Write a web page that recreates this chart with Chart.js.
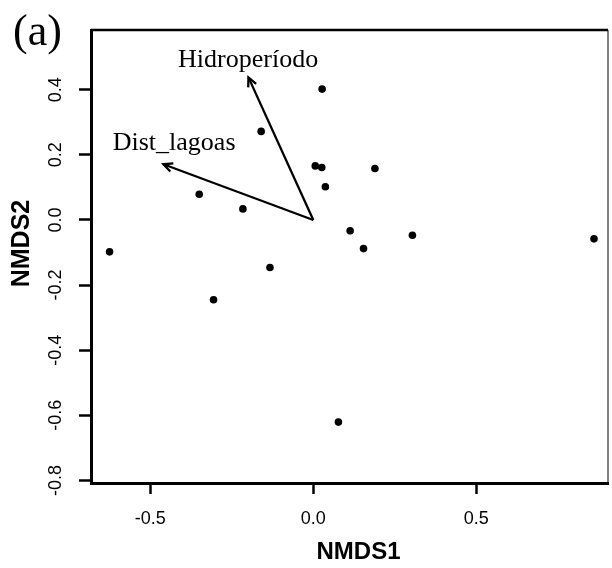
<!DOCTYPE html>
<html>
<head>
<meta charset="utf-8">
<script src="https://cdn.jsdelivr.net/npm/chart.js@4/dist/chart.umd.min.js"></script>
<style>
  html, body { margin: 0; padding: 0; background: #fff; }
  canvas { display: block; }
</style>
</head>
<body>
<canvas id="c" width="612" height="568"></canvas>
<script>
// ---- data ----
const siteX = [0.027, -0.160, 0.006, 0.026, 0.189, 0.037, -0.350, -0.216, 0.113, 0.304, 0.154, 0.861, -0.625, -0.133, -0.306, 0.077];
const siteY = [0.402, 0.272, 0.166, 0.161, 0.158, 0.102, 0.079, 0.034, -0.033, -0.047, -0.088, -0.058, -0.098, -0.146, -0.245, -0.621];

const vectorNames = ['Hidroperíodo', 'Dist_lagoas'];
const vectorX = [-0.199, -0.460];
const vectorY = [0.438, 0.171];
const vectorLabelX = [-0.200, -0.427];
const vectorLabelY = [0.470, 0.215];

const xTicks = [-0.5, 0.0, 0.5];
const xTickLabels = ['-0.5', '0.0', '0.5'];
const yTicks = [-0.8, -0.6, -0.4, -0.2, 0.0, 0.2, 0.4];
const yTickLabels = ['-0.8', '-0.6', '-0.4', '-0.2', '0.0', '0.2', '0.4'];

const xTitle = 'NMDS1';
const yTitle = 'NMDS2';
const panelLabel = '(a)';

// ---- build datasets ----
const sitePoints = siteX.map((x, i) => ({ x: x, y: siteY[i] }));
const vectorDatasets = vectorX.map((vx, i) => ({
  type: 'line',
  label: vectorNames[i],
  data: [{ x: 0, y: 0 }, { x: vx, y: vectorY[i] }],
  borderColor: '#000',
  borderWidth: 2.3,
  pointRadius: 0,
  fill: false,
  tension: 0
}));

const SANS = '"Liberation Sans", Arial, sans-serif';
const SERIF = '"Liberation Serif", "Times New Roman", serif';

const decorPlugin = {
  id: 'decor',
  afterDatasetsDraw(chart) {
    const ctx = chart.ctx;
    const xs = chart.scales.x, ys = chart.scales.y;
    const area = chart.chartArea;
    ctx.save();
    // arrow heads
    ctx.strokeStyle = '#000';
    ctx.fillStyle = '#000';
    ctx.lineWidth = 2.3;
    vectorX.forEach((vx, i) => {
      const x0 = xs.getPixelForValue(0), y0 = ys.getPixelForValue(0);
      const x1 = xs.getPixelForValue(vx), y1 = ys.getPixelForValue(vectorY[i]);
      const ang = Math.atan2(y1 - y0, x1 - x0);
      const L = 10, a = Math.PI / 7;
      ctx.beginPath();
      ctx.moveTo(x1 - L * Math.cos(ang - a), y1 - L * Math.sin(ang - a));
      ctx.lineTo(x1, y1);
      ctx.lineTo(x1 - L * Math.cos(ang + a), y1 - L * Math.sin(ang + a));
      ctx.stroke();
    });
    // vector labels
    ctx.font = '26px ' + SERIF;
    ctx.textAlign = 'center';
    ctx.textBaseline = 'alphabetic';
    vectorNames.forEach((name, i) => {
      ctx.fillText(name, xs.getPixelForValue(vectorLabelX[i]), ys.getPixelForValue(vectorLabelY[i]));
    });
    // top and right box lines
    ctx.lineWidth = 2.5;
    ctx.beginPath();
    ctx.moveTo(area.left, area.top);
    ctx.lineTo(area.right, area.top);
    ctx.stroke();
    ctx.lineWidth = 1;
    ctx.beginPath();
    ctx.moveTo(area.right, area.top);
    ctx.lineTo(area.right, area.bottom);
    ctx.stroke();
    ctx.restore();
  },
  afterDraw(chart) {
    const ctx = chart.ctx;
    const area = chart.chartArea;
    ctx.save();
    ctx.fillStyle = '#000';
    // axis titles
    ctx.font = 'bold 24px ' + SANS;
    ctx.textAlign = 'center';
    ctx.textBaseline = 'middle';
    ctx.fillText(xTitle, (area.left + area.right) / 2 + 9, area.bottom + 69);
    ctx.save();
    ctx.translate(area.left - 69, (area.top + area.bottom) / 2 - 13);
    ctx.rotate(-Math.PI / 2);
    ctx.font = 'bold 25px ' + SANS;
    ctx.fillText(yTitle, 0, 0);
    ctx.restore();
    // panel label
    ctx.font = '44px ' + SERIF;
    ctx.textAlign = 'left';
    ctx.textBaseline = 'alphabetic';
    ctx.fillText(panelLabel, 13, 45);
    ctx.restore();
  }
};

new Chart(document.getElementById('c'), {
  type: 'scatter',
  data: {
    datasets: [{
      label: 'sites',
      data: sitePoints,
      backgroundColor: '#000',
      borderColor: '#000',
      borderWidth: 0,
      pointRadius: 3.8,
      pointStyle: 'circle'
    }].concat(vectorDatasets)
  },
  options: {
    responsive: false,
    animation: false,
    events: [],
    layout: { padding: { top: 30, right: 4, left: 0, bottom: 0 } },
    plugins: { legend: { display: false }, tooltip: { enabled: false }, title: { display: false } },
    scales: {
      x: {
        type: 'linear',
        min: -0.682, max: 0.904,
        afterFit(s) { s.height = 85; },
        afterBuildTicks(s) { s.ticks = xTicks.map(v => ({ value: v })); },
        ticks: {
          callback(v) { const i = xTicks.indexOf(v); return i >= 0 ? xTickLabels[i] : ''; },
          color: '#000',
          font: { family: SANS, size: 18 },
          padding: 14,
          maxRotation: 0, minRotation: 0,
          autoSkip: false
        },
        grid: { drawOnChartArea: false, drawTicks: true, tickLength: 11, tickWidth: 2.5, tickColor: '#000' },
        border: { display: true, color: '#000', width: 3 }
      },
      y: {
        type: 'linear',
        min: -0.808, max: 0.5835,
        afterFit(s) { s.width = 91; },
        afterBuildTicks(s) { s.ticks = yTicks.map(v => ({ value: v })); },
        ticks: {
          callback(v) { const i = yTicks.findIndex(t => Math.abs(t - v) < 1e-9); return i >= 0 ? yTickLabels[i] : ''; },
          color: '#000',
          font: { family: SANS, size: 18 },
          padding: 7,
          minRotation: 90, maxRotation: 90,
          crossAlign: 'center',
          autoSkip: false
        },
        grid: { drawOnChartArea: false, drawTicks: true, tickLength: 12, tickWidth: 2.5, tickColor: '#000' },
        border: { display: true, color: '#000', width: 3 }
      }
    }
  },
  plugins: [decorPlugin]
});
</script>
</body>
</html>
